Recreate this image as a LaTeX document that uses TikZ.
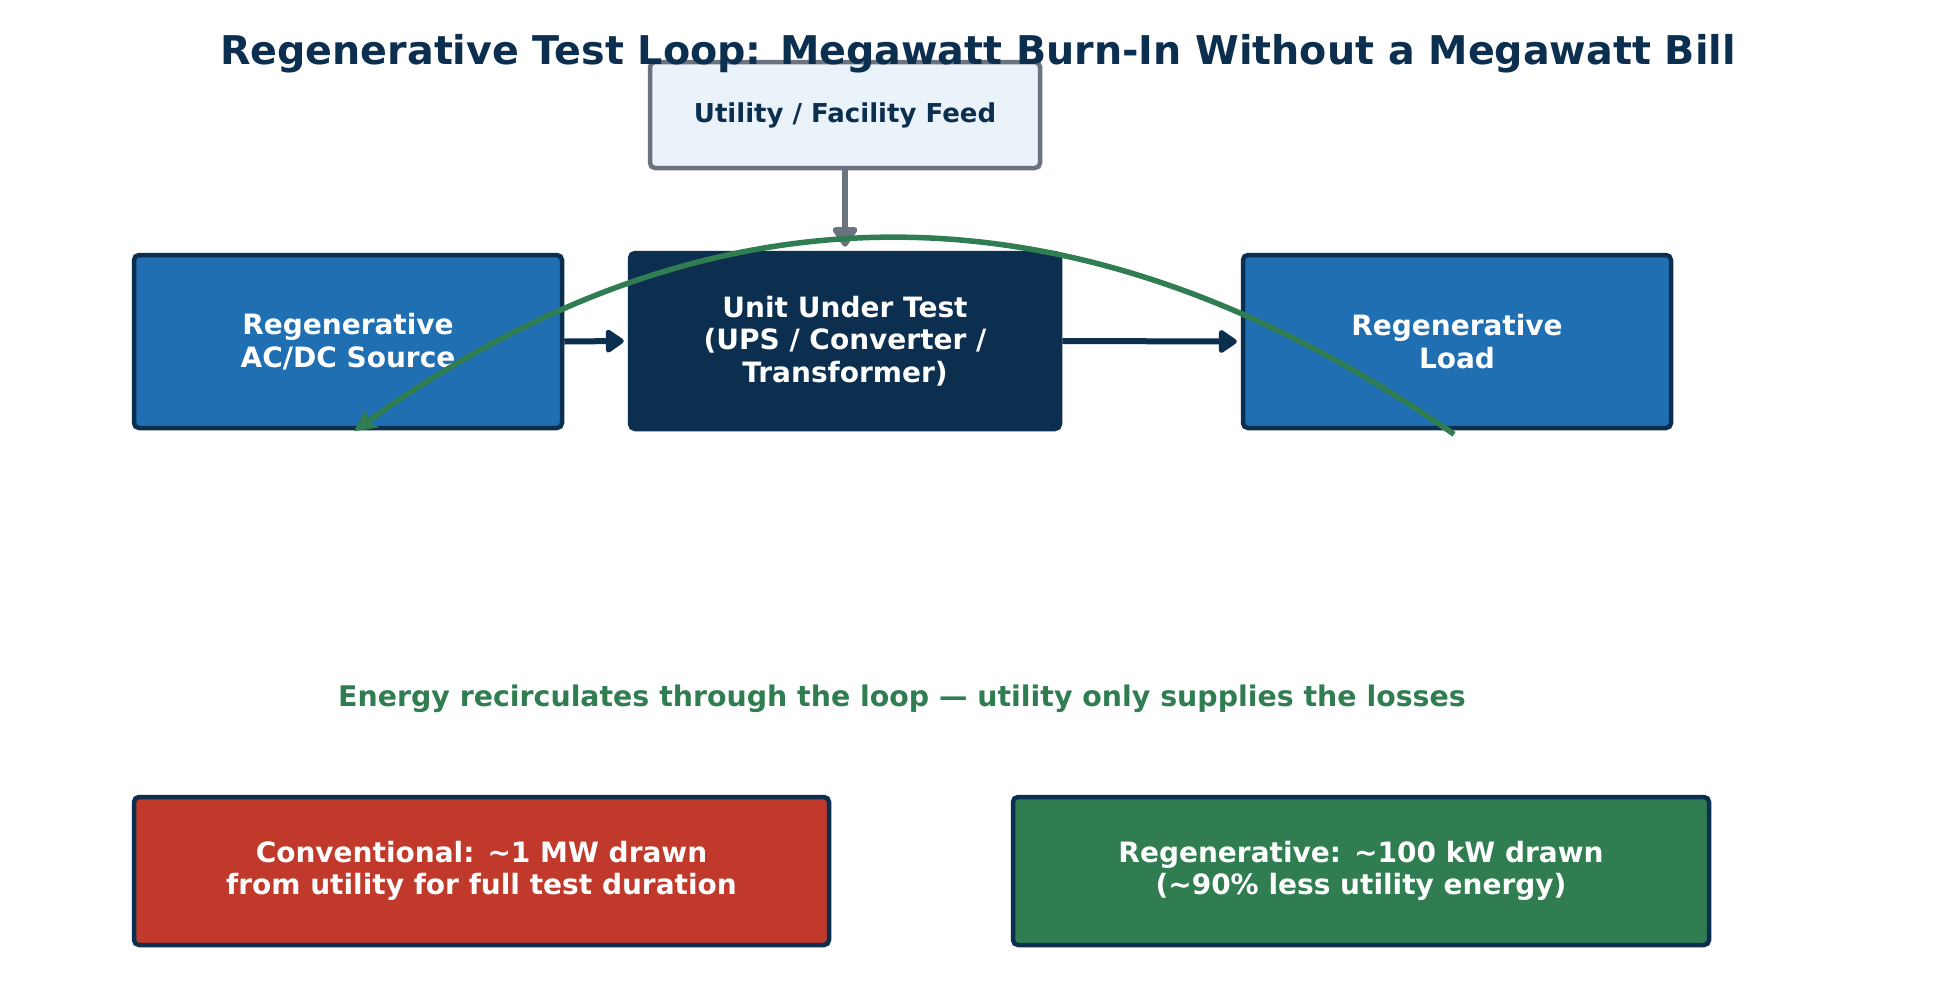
\documentclass[tikz,border=0pt]{standalone}
\usepackage{fontspec}
\setmainfont{DejaVu Sans}
\usetikzlibrary{arrows.meta}
\definecolor{navy}{HTML}{0C2E4F}
\definecolor{regblue}{HTML}{1F6FB2}
\definecolor{feedfill}{HTML}{EAF2FA}
\definecolor{feedgray}{HTML}{6B7280}
\definecolor{loopgreen}{HTML}{2F7D50}
\definecolor{convred}{HTML}{C0392B}
\tikzset{
  box/.style={rectangle, rounded corners=5pt, line width=4.5pt, align=center,
    font=\fontsize{28}{32.5}\selectfont\bfseries, text=white, inner sep=0pt},
  flow/.style={line width=6pt, draw=navy, -{Triangle[length=20pt,width=26pt,round]}},
  feedarrow/.style={line width=6pt, draw=feedgray, -{Triangle[length=22pt,width=28pt,round]}},
  loopline/.style={line width=5.5pt, draw=loopgreen, -{Stealth[length=22pt,width=22pt,inset=5pt]}},
}
\begin{document}
\begin{tikzpicture}[x=1pt,y=-1pt]
\useasboundingbox[fill=white] (0,0) rectangle (1957,989);
% boxes
\node[box, draw=feedgray, fill=feedfill, text=navy, minimum width=390, minimum height=106,
  font=\fontsize{26}{30}\selectfont\bfseries] (feed) at (845,115) {Utility / Facility Feed};
\node[box, draw=navy, fill=regblue, minimum width=428, minimum height=173] (src) at (348,341.5) {Regenerative\\AC/DC Source};
\node[box, draw=navy, fill=navy, minimum width=430, minimum height=176] (uut) at (845,341) {Unit Under Test\\(UPS / Converter /\\Transformer)};
\node[box, draw=navy, fill=regblue, minimum width=428, minimum height=173] (load) at (1457,341.5) {Regenerative\\Load};
\node[box, draw=navy, fill=convred, minimum width=695, minimum height=148] (conv) at (481.5,871) {Conventional: \textasciitilde1 MW drawn\\from utility for full test duration};
\node[box, draw=navy, fill=loopgreen, minimum width=696, minimum height=148] (regen) at (1361,871) {Regenerative: \textasciitilde100 kW drawn\\(\textasciitilde90\% less utility energy)};
% arrows
\draw[feedarrow] (feed.south) -- ([yshift=4]uut.north);
\draw[flow] (src.east) -- ([xshift=-4]uut.west);
\draw[flow] (uut.east) -- ([xshift=-4]load.west);
% loop curve
\coordinate (ls) at ([xshift=-3,yshift=-4]load.south);
\coordinate (ss) at ([xshift=6,yshift=-1]src.south);
\draw[loopline] (ls) .. controls (1080.7,174) and (714,173) .. (ss);
% texts
\node[anchor=base, text=loopgreen, font=\fontsize{28.4}{32}\selectfont\bfseries] (note) at (902,706) {Energy recirculates through the loop — utility only supplies the losses};
\node[anchor=base, text=navy, font=\fontsize{39.6}{44}\selectfont\bfseries] (title) at (978,64) {Regenerative Test Loop: Megawatt Burn-In Without a Megawatt Bill};
\end{tikzpicture}
\end{document}
